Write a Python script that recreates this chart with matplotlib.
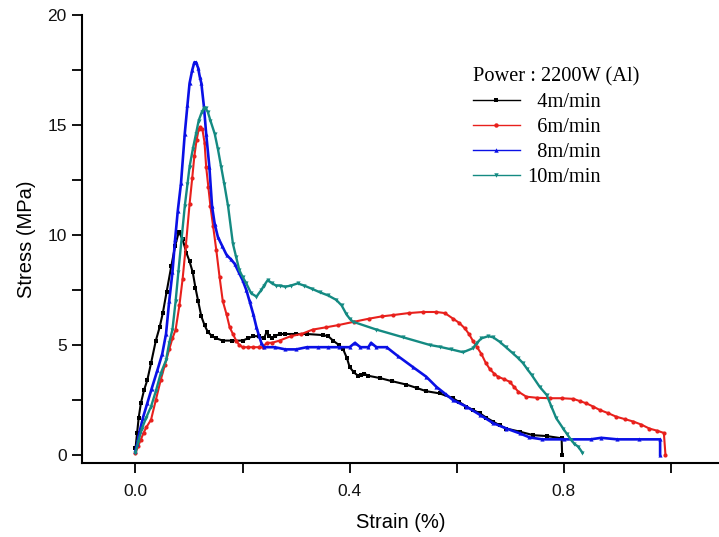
import matplotlib
matplotlib.use("Agg")
import matplotlib.pyplot as plt
from matplotlib.ticker import MultipleLocator
from matplotlib.lines import Line2D

# Stress-strain data, strain in %, stress in MPa
strain_4 = [0, 0.003, 0.006, 0.01, 0.016, 0.022, 0.029, 0.038, 0.045, 0.051, 0.058, 0.067, 0.074,
            0.081, 0.088, 0.095, 0.101, 0.107, 0.112, 0.117, 0.123, 0.129, 0.135, 0.143, 0.151,
            0.163, 0.18, 0.2, 0.21, 0.22, 0.23, 0.24, 0.245, 0.25, 0.255, 0.26, 0.27, 0.28, 0.3,
            0.32, 0.35, 0.36, 0.369, 0.38, 0.388, 0.395, 0.4, 0.408, 0.416, 0.422, 0.427, 0.435,
            0.456, 0.48, 0.506, 0.525, 0.543, 0.568, 0.593, 0.605, 0.618, 0.63, 0.643, 0.655,
            0.668, 0.68, 0.693, 0.718, 0.743, 0.768, 0.796, 0.797]
stress_4 = [0.3, 1.0, 1.7, 2.35, 2.95, 3.4, 4.17, 5.2, 5.8, 6.45, 7.4, 8.6, 9.5,
            10.15, 9.8, 9.2, 8.8, 8.3, 7.6, 7.0, 6.3, 5.9, 5.6, 5.4, 5.3,
            5.2, 5.2, 5.2, 5.3, 5.4, 5.4, 5.3, 5.6, 5.4, 5.3, 5.4, 5.5, 5.5, 5.5,
            5.5, 5.45, 5.4, 5.2, 5.0, 4.8, 4.4, 4.0, 3.75, 3.6, 3.65, 3.7, 3.6,
            3.5, 3.35, 3.2, 3.05, 2.9, 2.8, 2.58, 2.4, 2.2, 2.05, 1.9, 1.7,
            1.52, 1.35, 1.2, 1.06, 0.9, 0.86, 0.76, 0.0]

strain_6 = [0, 0.005, 0.01, 0.015, 0.02, 0.029, 0.038, 0.047, 0.055, 0.063, 0.069, 0.075, 0.082,
            0.088, 0.094, 0.101, 0.106, 0.11, 0.114, 0.118, 0.121, 0.125, 0.129, 0.132, 0.136,
            0.14, 0.145, 0.151, 0.157, 0.163, 0.17, 0.176, 0.182, 0.188, 0.194, 0.2, 0.21, 0.22,
            0.23, 0.238, 0.245, 0.255, 0.269, 0.29, 0.31, 0.331, 0.355, 0.378, 0.409, 0.437,
            0.46, 0.481, 0.51, 0.537, 0.562, 0.578, 0.593, 0.605, 0.615, 0.623, 0.63, 0.638,
            0.646, 0.654, 0.662, 0.67, 0.677, 0.688, 0.699, 0.707, 0.715, 0.73, 0.75, 0.774,
            0.796, 0.818, 0.83, 0.842, 0.855, 0.867, 0.883, 0.898, 0.914, 0.93, 0.945, 0.96,
            0.975, 0.987, 0.99]
stress_6 = [0.1, 0.4, 0.7, 1.0, 1.25, 1.6, 2.5, 3.4, 4.1, 4.8, 5.3, 5.7, 6.8,
            8.0, 9.5, 11.4, 12.6, 13.6, 14.3, 14.8, 14.9, 14.8, 14.2, 13.1, 12.2,
            11.3, 10.4, 9.3, 8.1, 7.0, 6.4, 5.8, 5.5, 5.2, 5.0, 4.9, 4.9, 4.9,
            4.9, 4.9, 5.1, 5.1, 5.2, 5.4, 5.5, 5.7, 5.8, 5.9, 6.06, 6.2,
            6.3, 6.36, 6.45, 6.5, 6.5, 6.45, 6.2, 6.0, 5.76, 5.5, 5.2, 4.9,
            4.6, 4.2, 3.9, 3.7, 3.56, 3.45, 3.33, 3.1, 2.88, 2.65, 2.6, 2.58,
            2.58, 2.55, 2.45, 2.35, 2.2, 2.05, 1.9, 1.74, 1.63, 1.52, 1.38, 1.2,
            1.1, 1.0, 0.0]

strain_8 = [0, 0.003, 0.008, 0.014, 0.022, 0.03, 0.041, 0.05, 0.057, 0.063, 0.069, 0.074, 0.079,
            0.085, 0.092, 0.097, 0.101, 0.106, 0.11, 0.113, 0.117, 0.12, 0.123, 0.128, 0.132,
            0.138, 0.143, 0.148, 0.154, 0.162, 0.17, 0.178, 0.185, 0.193, 0.2, 0.207, 0.213,
            0.22, 0.226, 0.231, 0.235, 0.24, 0.26, 0.28, 0.3, 0.32, 0.34, 0.36, 0.38, 0.4,
            0.41, 0.42, 0.435, 0.44, 0.45, 0.469, 0.49, 0.518, 0.543, 0.562, 0.58, 0.593,
            0.618, 0.643, 0.668, 0.693, 0.718, 0.736, 0.76, 0.8, 0.85, 0.87, 0.9, 0.94, 0.98,
            0.98]
stress_8 = [0.2, 0.5, 1.1, 1.7, 2.35, 3.0, 3.86, 4.6, 5.5, 7.0, 8.3, 9.8, 11.1,
            12.35, 14.6, 15.9, 16.9, 17.5, 17.85, 17.85, 17.6, 17.2, 16.9, 15.8, 14.6,
            13.1, 11.3, 10.5, 9.9, 9.5, 9.1, 8.9, 8.7, 8.3, 7.95, 7.5, 7.0,
            6.4, 5.8, 5.4, 5.1, 4.9, 4.9, 4.8, 4.8, 4.9, 4.9, 4.9, 4.9, 4.9,
            5.1, 4.9, 4.9, 5.1, 4.9, 4.9, 4.5, 4.0, 3.56, 3.1, 2.75, 2.5,
            2.2, 1.83, 1.45, 1.2, 0.98, 0.8, 0.71, 0.71, 0.71, 0.78, 0.71, 0.71, 0.71,
            0.0]

strain_10 = [0, 0.005, 0.012, 0.02, 0.029, 0.038, 0.047, 0.057, 0.063, 0.069, 0.075, 0.08, 0.086,
             0.092, 0.097, 0.101, 0.107, 0.113, 0.118, 0.124, 0.128, 0.131, 0.135, 0.14, 0.148,
             0.154, 0.16, 0.166, 0.173, 0.182, 0.188, 0.194, 0.2, 0.207, 0.216, 0.226, 0.235,
             0.24, 0.247, 0.255, 0.263, 0.269, 0.28, 0.29, 0.303, 0.315, 0.33, 0.344, 0.36,
             0.375, 0.385, 0.394, 0.4, 0.406, 0.45, 0.5, 0.55, 0.568, 0.59, 0.612, 0.63, 0.638,
             0.646, 0.659, 0.668, 0.68, 0.692, 0.705, 0.715, 0.724, 0.732, 0.74, 0.755, 0.768,
             0.777, 0.786, 0.799, 0.806, 0.814, 0.82, 0.827, 0.835]
stress_10 = [0.1, 0.6, 1.2, 1.7, 2.2, 2.9, 3.7, 4.3, 5.1, 5.7, 7.0, 8.3, 9.8,
             11.3, 12.3, 13.1, 13.9, 14.6, 15.2, 15.6, 15.76, 15.76, 15.6, 15.2, 14.6,
             13.9, 13.1, 12.3, 11.3, 9.6, 9.0, 8.4, 8.1, 7.8, 7.35, 7.2, 7.5,
             7.7, 7.95, 7.8, 7.7, 7.7, 7.65, 7.7, 7.8, 7.7, 7.55, 7.4, 7.25,
             7.05, 6.8, 6.4, 6.2, 6.06, 5.7, 5.35, 5.0, 4.92, 4.8, 4.67, 4.85, 5.1,
             5.3, 5.4, 5.35, 5.15, 4.9, 4.62, 4.4, 4.17, 3.9, 3.64, 3.1, 2.73,
             2.2, 1.67, 1.2, 0.95, 0.68, 0.5, 0.38, 0.1]

labels = ["4m/min", "6m/min", "8m/min", "10m/min"]
colors = ["#000000", "#e8201c", "#0a10e6", "#148a82"]
markers = ["s", "o", "^", "v"]
legend_title = "Power : 2200W (Al)"

fig = plt.figure(figsize=(7.19, 5.37), dpi=100)
ax = fig.add_axes([0.114, 0.138, 0.886, 0.834])

series = [(strain_4, stress_4), (strain_6, stress_6), (strain_8, stress_8), (strain_10, stress_10)]
widths = [1.5, 1.5, 1.9, 1.7]
for (x, y), c, m, lab, w in zip(series, colors, markers, labels, widths):
    ax.plot(x, y, color=c, lw=w, marker=m, ms=3.0, mew=0, label=lab)

ax.set_xlim(-0.1, 1.09)
ax.set_ylim(-0.36, 20)
ax.xaxis.set_minor_locator(MultipleLocator(0.2))
ax.yaxis.set_major_locator(MultipleLocator(5))
ax.yaxis.set_minor_locator(MultipleLocator(2.5))
ax.set_xticks([0.0, 0.4, 0.8])
ax.set_xticklabels(["0.0", "0.4", "0.8"])

for side in ("top", "right"):
    ax.spines[side].set_visible(False)
for side in ("left", "bottom"):
    ax.spines[side].set_linewidth(1.5)
ax.tick_params(which="both", direction="out", length=7, width=1.3, labelsize=12.5,
               labelcolor="#111111")
ax.tick_params(axis="x", pad=8)
ax.tick_params(axis="y", pad=4)
for lbl in ax.get_xticklabels() + ax.get_yticklabels():
    lbl.set_family(["Liberation Sans"])

ax.set_xlabel("Strain (%)", fontsize=14.5, family=["Liberation Sans"], labelpad=10)
ax.set_ylabel("Stress (MPa)", fontsize=14.5, family=["Liberation Sans"], labelpad=8)

handles = [Line2D([0], [0], color=c, lw=1.0, marker=m, ms=3.2, mew=0) for c, m in zip(colors, markers)]
shown = ["  " + l if l != "10m/min" else l for l in labels]
leg = ax.legend(handles, shown, title=legend_title, loc="upper left",
                bbox_to_anchor=(0.591, 0.915), frameon=False,
                prop={"family": ["Liberation Serif"], "size": 14.7},
                handlelength=2.3, handletextpad=0.35, labelspacing=0.28, borderpad=0.2)
leg.get_title().set_fontfamily(["Liberation Serif"])
leg.get_title().set_fontsize(14.7)
leg._legend_box.align = "left"

fig.savefig("out.png", dpi=100)
